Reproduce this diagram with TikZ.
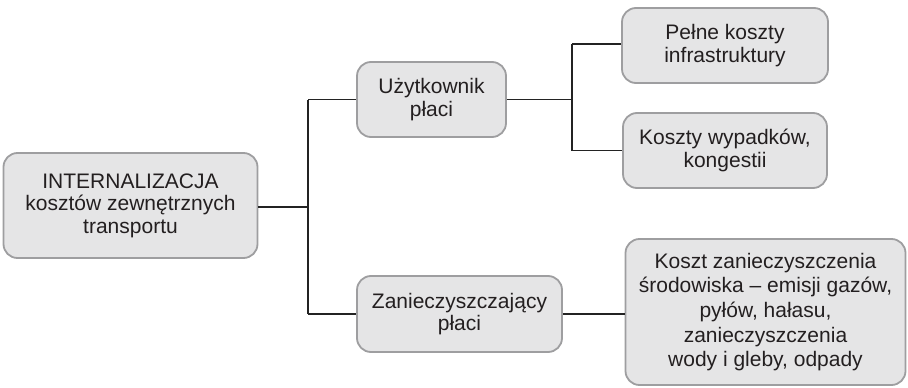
\documentclass[tikz,border=0pt]{standalone}
\usepackage{fontspec}
\setmainfont{Liberation Sans}
\definecolor{boxfill}{RGB}{229,229,230}
\definecolor{boxline}{RGB}{158,158,160}
\definecolor{conn}{RGB}{35,35,35}
\definecolor{txt}{RGB}{35,31,32}
\begin{document}
\begin{tikzpicture}[x=1pt,y=-1pt,
  box/.style={draw=boxline, fill=boxfill, line width=1.8pt, rounded corners=14pt,
    align=center, inner sep=0pt, font=\fontsize{21}{22.5}\selectfont, text=txt},
  link/.style={draw=conn, line width=1.1pt}]
\useasboundingbox (0,0) rectangle (908,388);
\node[box, minimum width=254pt, minimum height=105pt] (root) at (130.5,205.5)
  {INTERNALIZACJA\\kosztów zewnętrznych\\transportu};
\node[box, minimum width=149pt, minimum height=75pt] (user) at (431.5,99.5)
  {Użytkownik\\płaci};
\node[box, minimum width=205pt, minimum height=76pt] (poll) at (459.5,314)
  {Zanieczyszczający\\płaci};
\node[box, minimum width=206pt, minimum height=75pt] (infra) at (725,45.5)
  {Pełne koszty\\infrastruktury};
\node[box, minimum width=204pt, minimum height=75pt] (acc) at (725,150.5)
  {Koszty wypadków,\\kongestii};
\node[box, minimum width=280pt, minimum height=146pt,
  font=\fontsize{21}{24.7}\selectfont] (env) at (765.5,312)
  {Koszt zanieczyszczenia\\środowiska – emisji gazów,\\pyłów, hałasu,\\zanieczyszczenia\\wody i gleby, odpady};
\coordinate (j1) at (308,207);
\coordinate (j1t) at (308,99.5);
\coordinate (j1b) at (308,314);
\coordinate (j2) at (572,99.5);
\coordinate (j2t) at (572,44);
\coordinate (j2b) at (572,150.5);
\draw[link] (root.east |- j1) -- (j1);
\draw[link] (j1t) -- (j1b);
\draw[link] (j1t) -- (user.west);
\draw[link] (j1b) -- (poll.west);
\draw[link] (user.east) -- (j2);
\draw[link] (j2t) -- (j2b);
\draw[link] (j2t) -- (infra.west |- j2t);
\draw[link] (j2b) -- (acc.west);
\draw[link] (poll.east) -- (env.west |- poll.east);
\end{tikzpicture}
\end{document}
